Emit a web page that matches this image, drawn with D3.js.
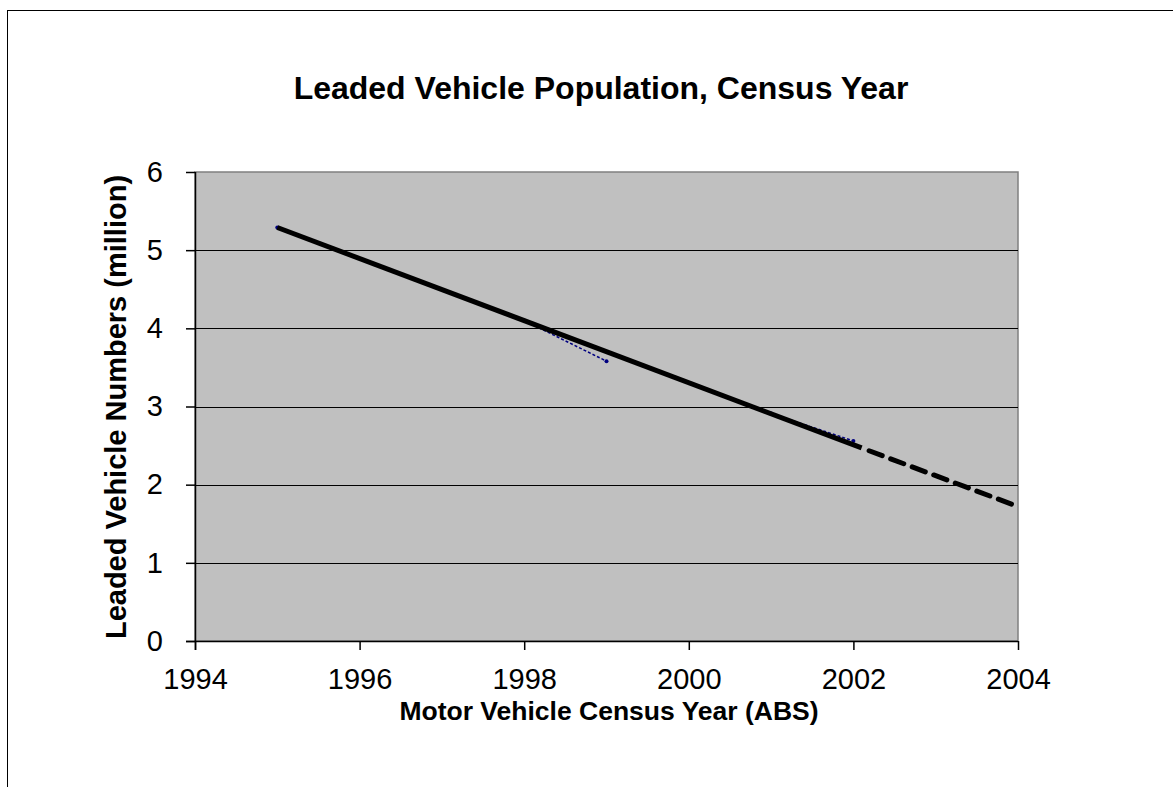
<!DOCTYPE html>
<html>
<head>
<meta charset="utf-8">
<script src="https://cdn.jsdelivr.net/npm/d3@7"></script>
<style>
  html, body { margin: 0; padding: 0; background: #fff; }
  svg { display: block; font-family: "Liberation Sans", Arial, sans-serif; }
</style>
</head>
<body>
<svg id="chart" width="1173" height="787"></svg>
<script>
// Census observations (million leaded vehicles); null = no census that year
const censusYears  = [1995, 1998, 1999, 2000, 2001, 2002];
const censusValues = [5.29, 4.10, 3.58, null, 2.91, 2.56];

// Linear fit over census years, then projected forward
const fitYears   = [1995, 2002.1];
const fitValues  = [5.29, 2.47];
const projYears  = [2002.1, 2004];
const projValues = [2.47, 1.72];

const xTicks = [1994, 1996, 1998, 2000, 2002, 2004];
const yTicks = [0, 1, 2, 3, 4, 5, 6];

const titleText  = "Leaded Vehicle Population, Census Year";
const xAxisTitle = "Motor Vehicle Census Year (ABS)";
const yAxisTitle = "Leaded Vehicle Numbers (million)";

const svg = d3.select("#chart");

// chart frame
svg.append("rect")
  .attr("x", 7.5).attr("y", 10.5)
  .attr("width", 1300).attr("height", 900)
  .attr("fill", "#fff").attr("stroke", "#000").attr("stroke-width", 1);

const plot = { left: 195, right: 1018, top: 172, bottom: 641 };

const x = d3.scaleLinear().domain([1994, 2004]).range([plot.left, plot.right]);
const y = d3.scaleLinear().domain([0, 6]).range([plot.bottom, plot.top]);

// plot background
svg.append("rect")
  .attr("x", plot.left).attr("y", plot.top)
  .attr("width", plot.right - plot.left).attr("height", plot.bottom - plot.top)
  .attr("fill", "#c0c0c0")
  .attr("stroke", "#808080").attr("stroke-width", 1.5);

// horizontal gridlines
svg.append("g")
  .selectAll("line")
  .data(yTicks.filter(v => v > 0 && v < 6))
  .join("line")
  .attr("x1", plot.left).attr("x2", plot.right)
  .attr("y1", d => Math.round(y(d)) + 0.5).attr("y2", d => Math.round(y(d)) + 0.5)
  .attr("stroke", "#000").attr("stroke-width", 1.2);

// axes
const yAxis = svg.append("g")
  .attr("transform", `translate(${plot.left},0)`)
  .call(d3.axisLeft(y).tickValues(yTicks).tickFormat(d3.format("d")).tickSize(9).tickPadding(23));
const xAxis = svg.append("g")
  .attr("transform", `translate(0,${plot.bottom})`)
  .call(d3.axisBottom(x).tickValues(xTicks).tickFormat(d3.format("d")).tickSize(9).tickPadding(18));

[yAxis, xAxis].forEach(g => {
  g.select(".domain").attr("stroke", "#000").attr("stroke-width", 1.5);
  g.selectAll(".tick line").attr("stroke", "#000").attr("stroke-width", 1.5);
  g.selectAll(".tick text")
    .attr("fill", "#000")
    .style("font-size", "29px")
    .style("font-family", "'Liberation Sans', Arial, sans-serif");
});
xAxis.select(".domain").attr("d", `M${plot.left - 9},0.5H${plot.right}`);
yAxis.select(".domain").attr("d", `M0.5,${plot.top}V${plot.bottom + 9}`);

// census series (navy dotted, with gaps where no census)
const censusData = censusYears.map((yr, i) => ({ yr, v: censusValues[i] }));
const censusLine = d3.line()
  .defined(d => d.v !== null)
  .x(d => x(d.yr)).y(d => y(d.v));
svg.append("path")
  .datum(censusData)
  .attr("d", censusLine)
  .attr("fill", "none")
  .attr("stroke", "#000080")
  .attr("stroke-width", 1.5)
  .attr("stroke-dasharray", "3,2");
svg.append("g")
  .selectAll("circle")
  .data(censusData.filter(d => d.v !== null))
  .join("circle")
  .attr("cx", d => x(d.yr)).attr("cy", d => y(d.v))
  .attr("r", 2)
  .attr("fill", "#000080");

// fitted trend (solid) and projection (dashed)
const trendLine = d3.line().x(d => x(d[0])).y(d => y(d[1]));
svg.append("path")
  .datum(fitYears.map((yr, i) => [yr, fitValues[i]]))
  .attr("d", trendLine)
  .attr("fill", "none")
  .attr("stroke", "#000")
  .attr("stroke-width", 5);
svg.append("path")
  .datum(projYears.map((yr, i) => [yr, projValues[i]]))
  .attr("d", trendLine)
  .attr("fill", "none")
  .attr("stroke", "#000")
  .attr("stroke-width", 5)
  .attr("stroke-linecap", "round")
  .attr("stroke-dasharray", "14,9")
  .attr("stroke-dashoffset", -8);

// titles
svg.append("text")
  .attr("x", 601).attr("y", 99)
  .attr("text-anchor", "middle")
  .style("font-size", "32px").style("font-weight", "bold")
  .text(titleText);

svg.append("text")
  .attr("x", 609).attr("y", 720)
  .attr("text-anchor", "middle")
  .style("font-size", "26.5px").style("font-weight", "bold")
  .text(xAxisTitle);

svg.append("text")
  .attr("transform", "translate(126,407) rotate(-90)")
  .attr("text-anchor", "middle")
  .style("font-size", "29px").style("font-weight", "bold")
  .text(yAxisTitle);
</script>
</body>
</html>
